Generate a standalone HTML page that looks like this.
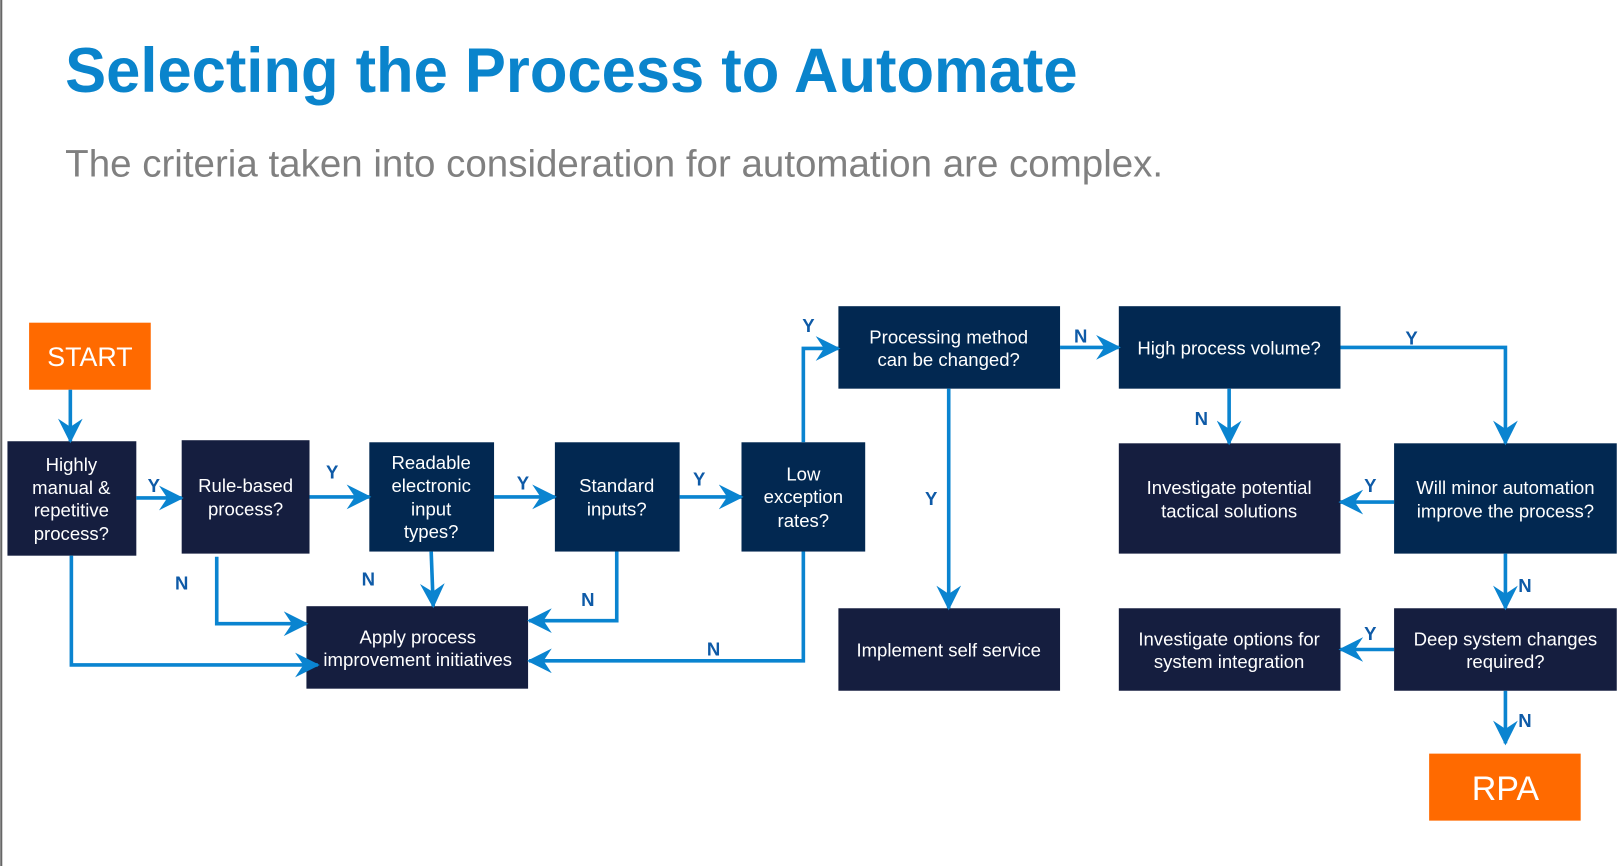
<!DOCTYPE html>
<html><head><meta charset="utf-8"><style>html,body{margin:0;padding:0;background:#fff;overflow:hidden}svg{display:block}</style></head>
<body>
<svg width="1617" height="866" viewBox="0 0 1568 840" xmlns="http://www.w3.org/2000/svg" font-family="Liberation Sans, Arial, sans-serif">
<defs>
<marker id="a" markerWidth="24" markerHeight="24" refX="22" refY="12" orient="auto" markerUnits="userSpaceOnUse" viewBox="0 0 24 24">
<path d="M0,0 L24,12 L0,24 L8,12 Z" fill="#0a84d0"/>
</marker>
</defs>
<rect x="0" y="0" width="2" height="840" fill="#666"/>
<text x="63" y="89" font-size="61" font-weight="bold" fill="#0a84cc" textLength="982" lengthAdjust="spacingAndGlyphs">Selecting the Process to Automate</text>
<text x="63" y="171" font-size="37" fill="#808080" textLength="1065" lengthAdjust="spacingAndGlyphs">The criteria taken into consideration for automation are complex.</text>

<rect x="28" y="313" width="118" height="65" fill="#ff6a00"/>
<rect x="1386" y="731" width="147" height="65" fill="#ff6a00"/>
<g fill="#151e3f">
<rect x="7" y="428" width="125" height="111"/>
<rect x="176" y="427" width="124" height="110"/>
<rect x="297" y="588" width="215" height="80"/>
<rect x="813" y="590" width="215" height="80"/>
<rect x="1085" y="430" width="215" height="107"/>
<rect x="1085" y="590" width="215" height="80"/>
<rect x="1352" y="590" width="216" height="80"/>
</g>
<g fill="#022851">
<rect x="358" y="429" width="121" height="106"/>
<rect x="538" y="429" width="121" height="106"/>
<rect x="719" y="429" width="120" height="106"/>
<rect x="813" y="297" width="215" height="80"/>
<rect x="1085" y="297" width="215" height="80"/>
<rect x="1352" y="430" width="216" height="107"/>
</g>

<g stroke="#0a84d0" stroke-width="3.5" fill="none" marker-end="url(#a)">
<path d="M68,378 V428"/>
<path d="M132,483 H176"/>
<path d="M300,482 H358"/>
<path d="M479,482 H538"/>
<path d="M659,482 H719"/>
<path d="M779,429 V338 H813"/>
<path d="M69,539 V645 H308"/>
<path d="M210,540 V605 H297"/>
<path d="M418,535 L420,588"/>
<path d="M598,535 V602 H513"/>
<path d="M779,535 V641 H513"/>
<path d="M1028,337 H1085"/>
<path d="M920,377 V590"/>
<path d="M1192,377 V430"/>
<path d="M1300,337 H1460 V430"/>
<path d="M1352,487 H1300"/>
<path d="M1460,537 V590"/>
<path d="M1352,630 H1300"/>
<path d="M1460,670 V721"/>
</g>

<g fill="#0e5aa7" font-size="18" font-weight="bold" text-anchor="middle">
<text x="149" y="477">Y</text>
<text x="322" y="464">Y</text>
<text x="507" y="475">Y</text>
<text x="678" y="471">Y</text>
<text x="784" y="322">Y</text>
<text x="176" y="572">N</text>
<text x="357" y="568">N</text>
<text x="570" y="588">N</text>
<text x="692" y="636">N</text>
<text x="1048" y="332">N</text>
<text x="903" y="490">Y</text>
<text x="1165" y="412">N</text>
<text x="1369" y="334">Y</text>
<text x="1329" y="477">Y</text>
<text x="1479" y="574">N</text>
<text x="1329" y="621">Y</text>
<text x="1479" y="705">N</text>
</g>

<g fill="#fff" text-anchor="middle" font-size="18">
<text x="87" y="355" font-size="26">START</text>
<text x="1460" y="776" font-size="33">RPA</text>
<text x="69" y="457">Highly</text>
<text x="69" y="479">manual &amp;</text>
<text x="69" y="501">repetitive</text>
<text x="69" y="524">process?</text>
<text x="238" y="477">Rule-based</text>
<text x="238" y="500">process?</text>
<text x="418" y="455">Readable</text>
<text x="418" y="477">electronic</text>
<text x="418" y="500">input</text>
<text x="418" y="522">types?</text>
<text x="598" y="477">Standard</text>
<text x="598" y="500">inputs?</text>
<text x="779" y="466">Low</text>
<text x="779" y="488">exception</text>
<text x="779" y="511">rates?</text>
<text x="405" y="624">Apply process</text>
<text x="405" y="646">improvement initiatives</text>
<text x="920" y="333">Processing method</text>
<text x="920" y="355">can be changed?</text>
<text x="1192" y="344">High process volume?</text>
<text x="920" y="637">Implement self service</text>
<text x="1192" y="479">Investigate potential</text>
<text x="1192" y="502">tactical solutions</text>
<text x="1460" y="479">Will minor automation</text>
<text x="1460" y="502">improve the process?</text>
<text x="1192" y="626">Investigate options for</text>
<text x="1192" y="648">system integration</text>
<text x="1460" y="626">Deep system changes</text>
<text x="1460" y="648">required?</text>
</g>
</svg>
</body></html>
